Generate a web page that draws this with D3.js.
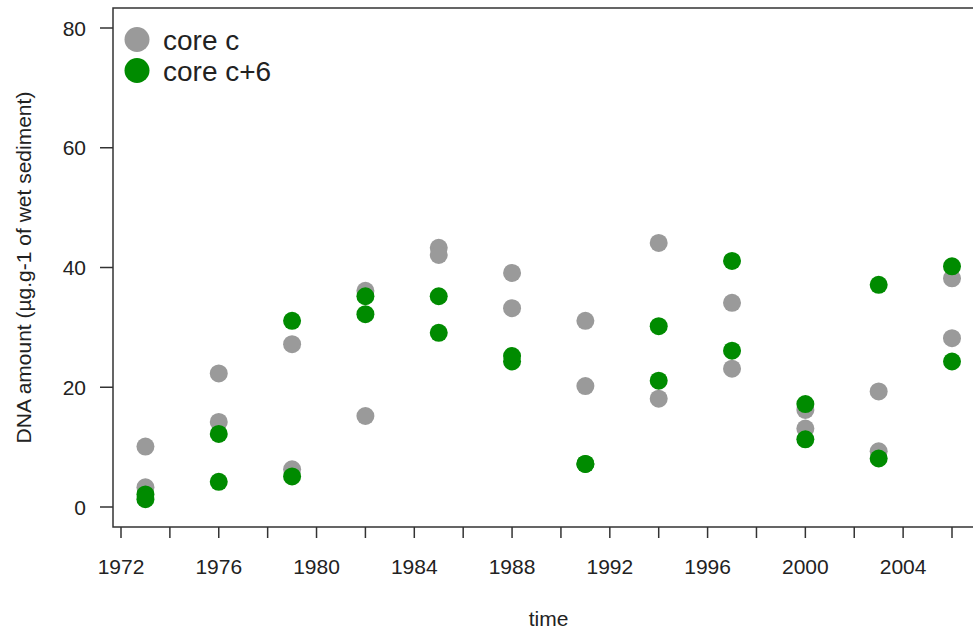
<!DOCTYPE html>
<meta charset="utf-8">
<title>DNA amount over time</title>
<style>
  html, body { margin: 0; background: #fff; overflow: hidden; }
  svg { display: block; }
  text { font-family: "Liberation Sans", Arial, sans-serif; fill: #222; }
  .frame { fill: none; stroke: #333; stroke-width: 1.5px; }
  .tick { stroke: #333; stroke-width: 1.5px; }
</style>
<body>
<script src="https://cdn.jsdelivr.net/npm/d3@7"></script>
<script>

var width = 973,
    height = 632;

// sampling years, two replicate measurements per year for each core
var years = [1973, 1976, 1979, 1982, 1985, 1988, 1991, 1994, 1997, 2000, 2003, 2006];
var coreC  = [[10.1, 3.3], [22.3, 14.2], [27.2, 6.3], [36.1, 15.2], [43.3, 42.1], [39.1, 33.2],
              [31.1, 20.2], [44.1, 18.1], [34.1, 23.1], [16.2, 13.1], [19.3, 9.3], [38.2, 28.2]];
var coreC6 = [[2.1, 1.3], [12.2, 4.2], [31.1, 5.1], [35.2, 32.2], [35.2, 29.1], [25.2, 24.3],
              [7.2, 7.2], [30.2, 21.1], [41.1, 26.1], [17.2, 11.3], [37.1, 8.1], [40.2, 24.3]];

var yTicks = [0, 20, 40, 60, 80];
var xTicks = d3.range(1972, 2007, 2);
var xLabels = [1972, 1976, 1980, 1984, 1988, 1992, 1996, 2000, 2004];

var series = [
  {name: "core c",   values: coreC,  color: "#9a9a9a"},
  {name: "core c+6", values: coreC6, color: "#008b00"}
];

// plot region (R style: 4% padding around the data range), right side runs off the picture
var plotLeft = 113, plotTop = 8, plotBottom = 527;
var x = d3.scaleLinear().domain([1972, 2006]).range([121, 952]);
var y = d3.scaleLinear().domain([0, 80]).range([507, 28]);
var plotRight = x(2007.32);

var svg = d3.select("body").append("svg")
    .attr("width", width)
    .attr("height", height);

// points
series.forEach(function(s) {
  var pts = [];
  years.forEach(function(yr, i) {
    s.values[i].forEach(function(v) { pts.push({year: yr, value: v}); });
  });
  svg.append("g").selectAll("circle")
    .data(pts)
    .enter().append("circle")
      .attr("cx", function(d) { return x(d.year); })
      .attr("cy", function(d) { return y(d.value); })
      .attr("r", 9)
      .attr("fill", s.color);
});

svg.append("path")
    .attr("class", "frame")
    .attr("d", "M" + plotRight + "," + plotTop + "H" + plotLeft + "V" + plotBottom + "H" + plotRight);

// y axis
var gy = svg.append("g");
gy.selectAll("line").data(yTicks).enter().append("line")
    .attr("class", "tick")
    .attr("x1", 100).attr("x2", plotLeft)
    .attr("y1", function(d) { return y(d); })
    .attr("y2", function(d) { return y(d); });
gy.selectAll("text").data(yTicks).enter().append("text")
    .attr("x", 86)
    .attr("y", function(d) { return y(d); })
    .attr("dy", "0.36em")
    .attr("text-anchor", "end")
    .style("font-size", "21px")
    .text(function(d) { return d; });

// x axis
var gx = svg.append("g");
gx.selectAll("line").data(xTicks).enter().append("line")
    .attr("class", "tick")
    .attr("x1", function(d) { return x(d); })
    .attr("x2", function(d) { return x(d); })
    .attr("y1", plotBottom).attr("y2", 538);
gx.selectAll("text").data(xLabels).enter().append("text")
    .attr("x", function(d) { return x(d); })
    .attr("y", 574)
    .attr("text-anchor", "middle")
    .style("font-size", "21px")
    .text(function(d) { return d; });

svg.append("text")
    .attr("x", (plotLeft + plotRight) / 2)
    .attr("y", 626)
    .attr("text-anchor", "middle")
    .style("font-size", "21px")
    .text("time");

svg.append("text")
    .attr("transform", "translate(31," + (plotTop + plotBottom) / 2 + ") rotate(-90)")
    .attr("text-anchor", "middle")
    .style("font-size", "21px")
    .text("DNA amount (\u00b5g.g-1 of wet sediment)");

// legend
var legend = svg.append("g").selectAll("g")
    .data(series)
    .enter().append("g")
      .attr("transform", function(d, i) { return "translate(137," + (39.5 + i * 31) + ")"; });
legend.append("circle")
    .attr("r", 12.5)
    .attr("fill", function(d) { return d.color; });
legend.append("text")
    .attr("x", 26)
    .attr("dy", "0.36em")
    .style("font-size", "28px")
    .text(function(d) { return d.name; });

</script>
</body>
